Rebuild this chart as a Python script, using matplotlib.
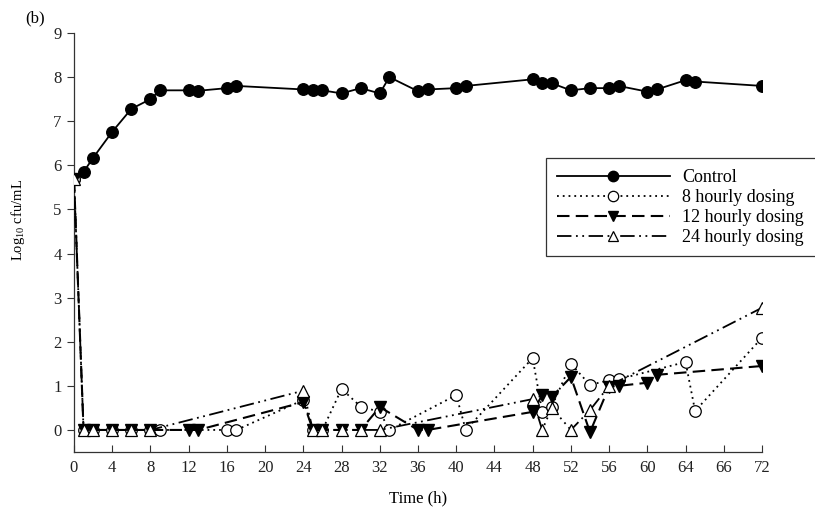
import matplotlib
matplotlib.use("Agg")
import matplotlib.pyplot as plt
from matplotlib.patches import Rectangle

plt.rcParams['font.family'] = ['Liberation Serif', 'DejaVu Serif']
plt.rcParams['mathtext.fontset'] = 'custom'
plt.rcParams['mathtext.rm'] = 'Liberation Serif'
plt.rcParams['mathtext.it'] = 'Liberation Serif:italic'

# ---- data ----
control_t = [0, 1, 2, 4, 6, 8, 9, 12, 13, 16, 17, 24, 25, 26, 28, 30, 32, 33,
             36, 37, 40, 41, 48, 49, 50, 52, 54, 56, 57, 60, 61, 64, 65, 72]
control_v = [5.7, 5.85, 6.17, 6.76, 7.28, 7.5, 7.7, 7.7, 7.69, 7.75, 7.8, 7.72,
             7.7, 7.7, 7.63, 7.75, 7.63, 8.0, 7.68, 7.72, 7.75, 7.8, 7.95, 7.86,
             7.86, 7.7, 7.75, 7.75, 7.8, 7.67, 7.72, 7.93, 7.9, 7.8]

h8_t = [0, 1, 2, 4, 6, 8, 9, 16, 17, 24, 25, 26, 28, 30, 32, 33, 40, 41,
        48, 49, 50, 52, 54, 56, 57, 64, 65, 72]
h8_v = [5.7, 0, 0, 0, 0, 0, 0, 0, 0, 0.68, 0, 0, 0.93, 0.53, 0.41, 0, 0.79, 0,
        1.63, 0.41, 0.53, 1.5, 1.02, 1.13, 1.15, 1.54, 0.43, 2.09]

h12_t = [0, 1, 2, 4, 6, 8, 12, 13, 24, 25, 26, 28, 30, 32, 36, 37,
         48, 49, 50, 52, 54, 56, 57, 60, 61, 72]
h12_v = [5.7, 0, 0, 0, 0, 0, 0, 0, 0.63, 0, 0, 0, 0, 0.52, 0, 0,
         0.41, 0.79, 0.75, 1.2, -0.05, 0.98, 1.0, 1.07, 1.25, 1.45]

h24_t = [0, 1, 2, 4, 6, 8, 24, 25, 26, 28, 30, 32, 48, 49, 50, 52, 54, 56, 72]
h24_v = [5.7, 0, 0, 0, 0, 0, 0.89, 0, 0, 0, 0, 0, 0.7, 0, 0.5, 0, 0.45, 1.0, 2.77]

xticks = list(range(0, 73, 4))
xticklabels = ['0', '4', '8', '12', '16', '20', '24', '28', '32', '36', '40',
               '44', '48', '52', '56', '60', '64', '66', '72']
yticks = list(range(0, 10))

# ---- figure ----
W, H = 815, 508
fig = plt.figure(figsize=(W / 100, H / 100), dpi=100)
ax = fig.add_axes([74 / W, 1 - 452 / H, (762 - 74) / W, (452 - 33) / H])

ms = 8.3
ax.plot(control_t, control_v, color='black', lw=1.3, marker='o', ms=ms,
        mfc='black', mec='black', label='Control', zorder=3)
ax.plot(h8_t, h8_v, color='black', lw=1.3, ls=(0, (1, 2.2)), marker='o', ms=ms,
        mfc='white', mec='black', mew=0.9, label='8 hourly dosing', zorder=4)
ax.plot(h12_t, h12_v, color='black', lw=1.5, ls=(0, (6, 3)), marker='v', ms=ms,
        mfc='black', mec='black', label='12 hourly dosing', zorder=5)
ax.plot(h24_t, h24_v, color='black', lw=1.3, ls=(0, (8, 2.5, 1, 2.5, 1, 2.5)),
        marker='^', ms=ms, mfc='white', mec='black', mew=0.9,
        label='24 hourly dosing', zorder=6)

ax.set_xlim(0, 72)
ax.set_ylim(-0.5, 9)
ax.set_xticks(xticks)
ax.set_xticklabels(xticklabels)
ax.set_yticks(yticks)
ax.spines['top'].set_visible(False)
ax.spines['right'].set_visible(False)
for s in ('left', 'bottom'):
    ax.spines[s].set_linewidth(0.9)
    ax.spines[s].set_color('#333333')
ax.tick_params(axis='x', direction='in', length=5, labelsize=12, pad=6,
               color='#333333')
ax.tick_params(axis='y', direction='out', length=5, labelsize=12, pad=4,
               color='#333333')
for lab in ax.get_xticklabels() + ax.get_yticklabels():
    lab.set_color('#222222')

ax.set_xlabel('Time (h)', fontsize=12, labelpad=10)
ax.set_ylabel(r'Log$_{10}$ cfu/mL', fontsize=10.5)
ax.yaxis.set_label_coords((27 - 74) / 688, (452 - 220) / 419)

fig.text(25 / W, 1 - 18 / H, '(b)', fontsize=12, ha='left', va='center')

# legend frame drawn as a rectangle in figure coordinates
frame = Rectangle((546 / W, 1 - 256 / H), (816 - 546) / W, (256 - 158) / H,
                  transform=fig.transFigure, facecolor='white',
                  edgecolor='#333333', lw=0.9, zorder=19, clip_on=False)
ax.add_patch(frame)

leg = ax.legend(loc='upper left', bbox_to_anchor=(557 / W, 1 - 169 / H),
                bbox_transform=fig.transFigure, borderaxespad=0, borderpad=0,
                fontsize=13, frameon=False, handlelength=6.25,
                labelspacing=0.17, handletextpad=0.7, markerscale=0.9)
leg.set_zorder(20)

fig.savefig('out.png', dpi=100)
